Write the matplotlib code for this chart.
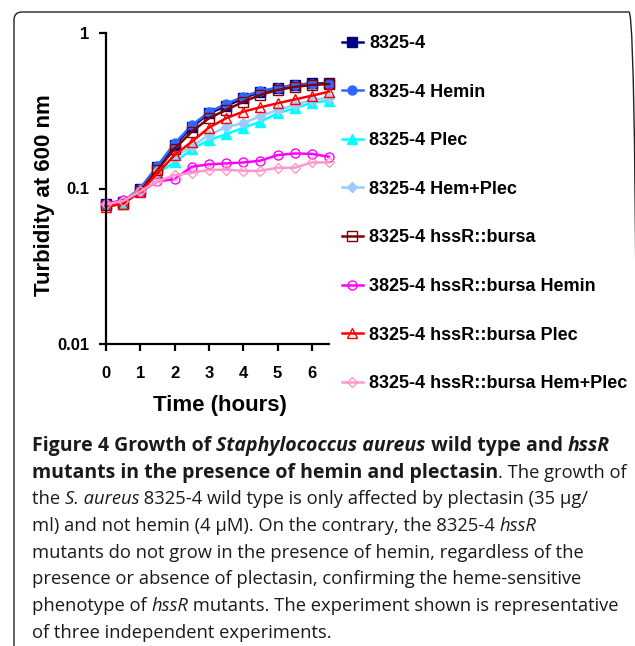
import matplotlib.pyplot as plt
from matplotlib.patches import FancyBboxPatch
from matplotlib.ticker import NullLocator
from matplotlib.transforms import IdentityTransform

# time points (hours)
hours = [0, 0.5, 1, 1.5, 2, 2.5, 3, 3.5, 4, 4.5, 5, 5.5, 6, 6.5]

# turbidity at 600 nm
wt = [0.080, 0.082, 0.100, 0.138, 0.190, 0.248, 0.304, 0.339, 0.380, 0.419, 0.441, 0.463, 0.475, 0.475]
wt_hemin = [0.080, 0.083, 0.100, 0.140, 0.195, 0.255, 0.310, 0.350, 0.390, 0.425, 0.445, 0.465, 0.470, 0.472]
wt_plec = [0.079, 0.081, 0.097, 0.126, 0.147, 0.179, 0.205, 0.223, 0.246, 0.269, 0.305, 0.328, 0.356, 0.367]
wt_hemplec = [0.080, 0.083, 0.098, 0.130, 0.160, 0.186, 0.221, 0.248, 0.263, 0.292, 0.320, 0.344, 0.371, 0.384]
mut = [0.078, 0.080, 0.097, 0.132, 0.180, 0.232, 0.283, 0.320, 0.361, 0.400, 0.430, 0.450, 0.463, 0.470]
mut_hemin = [0.080, 0.084, 0.095, 0.111, 0.115, 0.138, 0.143, 0.145, 0.147, 0.151, 0.164, 0.168, 0.167, 0.160]
mut_plec = [0.076, 0.080, 0.095, 0.125, 0.164, 0.200, 0.246, 0.283, 0.312, 0.333, 0.353, 0.374, 0.395, 0.420]
mut_hemplec = [0.079, 0.083, 0.096, 0.111, 0.122, 0.126, 0.132, 0.132, 0.130, 0.130, 0.136, 0.136, 0.147, 0.147]

labels = ['8325-4', '8325-4 Hemin', '8325-4 Plec', '8325-4 Hem+Plec',
          '8325-4 hssR::bursa', '3825-4 hssR::bursa Hemin',
          '8325-4 hssR::bursa Plec', '8325-4 hssR::bursa Hem+Plec']
values = [wt, wt_hemin, wt_plec, wt_hemplec, mut, mut_hemin, mut_plec, mut_hemplec]
colors = ['#000080', '#3366FF', '#00FFFF', '#99CCFF', '#800000', '#FF00FF', '#FF0000', '#FF99CC']
markers = ['s', 'o', '^', 'D', 's', 'o', '^', 'D']
filled = [True, True, True, True, False, False, False, False]

W, H = 635, 646
fig = plt.figure(figsize=(W / 100, H / 100), dpi=100)
ax = fig.add_axes([106 / W, 1 - 344 / H, 223 / W, 311 / H])

chart_font = 'Liberation Sans'

for lab, vals, col, mk, fill in zip(labels, values, colors, markers, filled):
    ax.plot(hours, vals, color=col, lw=1.8, marker=mk,
            markersize=6.5 if mk != 'D' else 5.5,
            markerfacecolor=col if fill else 'none',
            markeredgecolor=col, markeredgewidth=1.0,
            label=lab, clip_on=False)

ax.set_yscale('log')
ax.set_ylim(0.01, 1)
ax.set_xlim(0, 6.5)
ax.set_xticks(range(7))
ax.set_yticks([0.01, 0.1, 1])
ax.set_yticklabels(['0.01', '0.1', '1'])
ax.yaxis.set_minor_locator(NullLocator())

for side in ['top', 'right']:
    ax.spines[side].set_visible(False)
for side in ['left', 'bottom']:
    ax.spines[side].set_linewidth(1.6)
ax.tick_params(axis='both', direction='out', length=5, width=1.6, colors='black')
ax.tick_params(axis='x', pad=11)
ax.tick_params(axis='y', pad=7)
for lbl in ax.get_xticklabels() + ax.get_yticklabels():
    lbl.set_fontfamily(chart_font)
    lbl.set_fontweight('bold')
    lbl.set_fontsize(12)

ax.set_xlabel('Time (hours)', fontsize=16, fontweight='bold', family=chart_font)
ax.set_ylabel('Turbidity at 600 nm', fontsize=16, fontweight='bold', family=chart_font)
ax.xaxis.set_label_coords((220 - 106) / 223, (344 - 405) / 311)
ax.xaxis.label.set_va('center')
ax.yaxis.set_label_coords((45 - 106) / 223, (344 - 195) / 311)
ax.yaxis.label.set_va('center')

ax.legend(loc='upper left', bbox_to_anchor=(342 / W, 1 - 35 / H),
          bbox_transform=fig.transFigure, frameon=False, borderpad=0,
          borderaxespad=0, handlelength=1.15, handletextpad=0.35,
          labelspacing=1.75, prop={'family': chart_font, 'weight': 'bold', 'size': 13})

# rounded frame around the figure panel (right side runs off the canvas)
frame = FancyBboxPatch((0.14, -0.5), 6.23, 6.46 - 0.12 + 0.5,
                       boxstyle='round,pad=0,rounding_size=0.08',
                       transform=fig.dpi_scale_trans, fill=False,
                       edgecolor='#222222', lw=1.0, clip_on=False)
fig.add_artist(frame)

# caption with mixed styles
cap_font = 'Open Sans'
bold_size = 14.0
regular_size = 13.2
caption = [
    [('Figure 4 Growth of ', 'bold', 'normal'), ('Staphylococcus aureus', 'bold', 'italic'),
     (' wild type and ', 'bold', 'normal'), ('hssR', 'bold', 'italic')],
    [('mutants in the presence of hemin and plectasin', 'bold', 'normal'),
     ('. The growth of', 'normal', 'normal')],
    [('the ', 'normal', 'normal'), ('S. aureus', 'normal', 'italic'),
     (' 8325-4 wild type is only affected by plectasin (35 µg/', 'normal', 'normal')],
    [('ml) and not hemin (4 µM). On the contrary, the 8325-4 ', 'normal', 'normal'),
     ('hssR', 'normal', 'italic')],
    [('mutants do not grow in the presence of hemin, regardless of the', 'normal', 'normal')],
    [('presence or absence of plectasin, confirming the heme-sensitive', 'normal', 'normal')],
    [('phenotype of ', 'normal', 'normal'), ('hssR', 'normal', 'italic'),
     (' mutants. The experiment shown is representative', 'normal', 'normal')],
    [('of three independent experiments.', 'normal', 'normal')],
]

renderer = fig.canvas.get_renderer()


def run_width(s, weight, style, size):
    def w(txt):
        t = fig.text(0, 0, txt, fontsize=size, fontweight=weight, fontstyle=style,
                     family=cap_font, transform=IdentityTransform())
        width = t.get_window_extent(renderer).width
        t.remove()
        return width
    return w('x' + s + 'x') - w('xx')


for i, line in enumerate(caption):
    x = 32
    y = H - (451 + i * 26.7)
    for s, weight, style in line:
        size = bold_size if weight == 'bold' else regular_size
        fig.text(x, y, s, fontsize=size, fontweight=weight, fontstyle=style,
                 family=cap_font, color='#1a1a1a', va='baseline', ha='left',
                 transform=IdentityTransform())
        x += run_width(s, weight, style, size)

fig.savefig('out.png', dpi=100)
